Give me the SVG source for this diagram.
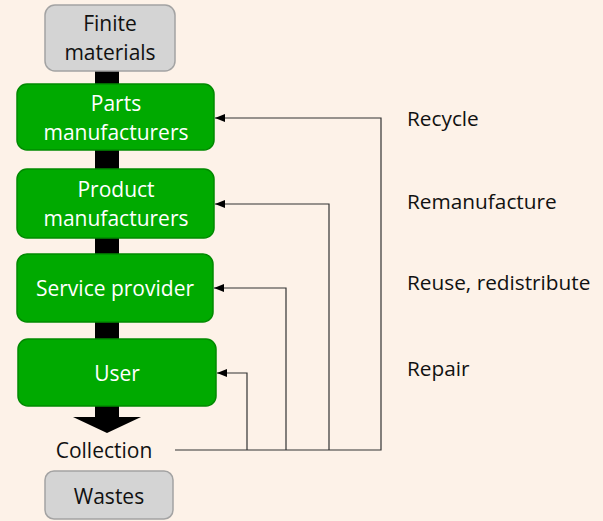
<svg xmlns="http://www.w3.org/2000/svg" width="603" height="521" viewBox="0 0 603 521">
<defs>
<marker id="ah" markerWidth="10" markerHeight="8" refX="10" refY="4" orient="auto" markerUnits="userSpaceOnUse">
<path d="M0,0 L10,4 L0,8 Z" fill="#000"/>
</marker>
<style>
.gray{fill:#d4d4d4;stroke:#a3a3a3;stroke-width:1.5}
.green{fill:#00aa00;stroke:#008a00;stroke-width:1.5}
.t{font-family:"Open Sans","Noto Sans",sans-serif;font-size:21px;text-anchor:middle}
.w{fill:#fff}
.k{fill:#111}
.lab{font-family:"Open Sans","Noto Sans",sans-serif;font-size:20.8px;fill:#111}
.conn{fill:none;stroke:#333;stroke-width:1.2}
</style>
</defs>
<rect x="0" y="0" width="603" height="521" fill="#fdf2e8"/>
<g id="flow">
<rect x="95" y="70" width="24" height="348" fill="#000"/>
<path d="M73,417 L141,417 L107,433 Z" fill="#000"/>
</g>
<g id="finite">
<rect class="gray" x="45" y="5" width="130" height="66" rx="10"/>
<text class="t k" x="110" y="31">Finite</text>
<text class="t k" x="110" y="60">materials</text>
</g>
<g id="parts">
<rect class="green" x="17" y="84" width="197" height="66" rx="10"/>
<text class="t w" x="116" y="111">Parts</text>
<text class="t w" x="116" y="140">manufacturers</text>
</g>
<g id="product">
<rect class="green" x="17" y="169" width="197" height="69" rx="10"/>
<text class="t w" x="116" y="197">Product</text>
<text class="t w" x="116" y="226">manufacturers</text>
</g>
<g id="service">
<rect class="green" x="17" y="254" width="196" height="68" rx="10"/>
<text class="t w" x="115" y="296">Service provider</text>
</g>
<g id="user">
<rect class="green" x="18" y="339" width="198" height="67" rx="10"/>
<text class="t w" x="117" y="381">User</text>
</g>
<g id="collection">
<text class="t k" x="104" y="458">Collection</text>
</g>
<g id="wastes">
<rect class="gray" x="45" y="471" width="128" height="48" rx="9"/>
<text class="t k" x="109" y="504">Wastes</text>
</g>
<g id="connectors">
<path class="conn" d="M175,450 L381,450 L381,118 L215,118" marker-end="url(#ah)"/>
<path class="conn" d="M329,450 L329,204 L215,204" marker-end="url(#ah)"/>
<path class="conn" d="M286,450 L286,288 L214,288" marker-end="url(#ah)"/>
<path class="conn" d="M247,450 L247,373 L217,373" marker-end="url(#ah)"/>
</g>
<g id="labels">
<text class="lab" x="407" y="126">Recycle</text>
<text class="lab" x="407" y="209">Remanufacture</text>
<text class="lab" x="407" y="290">Reuse, redistribute</text>
<text class="lab" x="407" y="376">Repair</text>
</g>
</svg>
